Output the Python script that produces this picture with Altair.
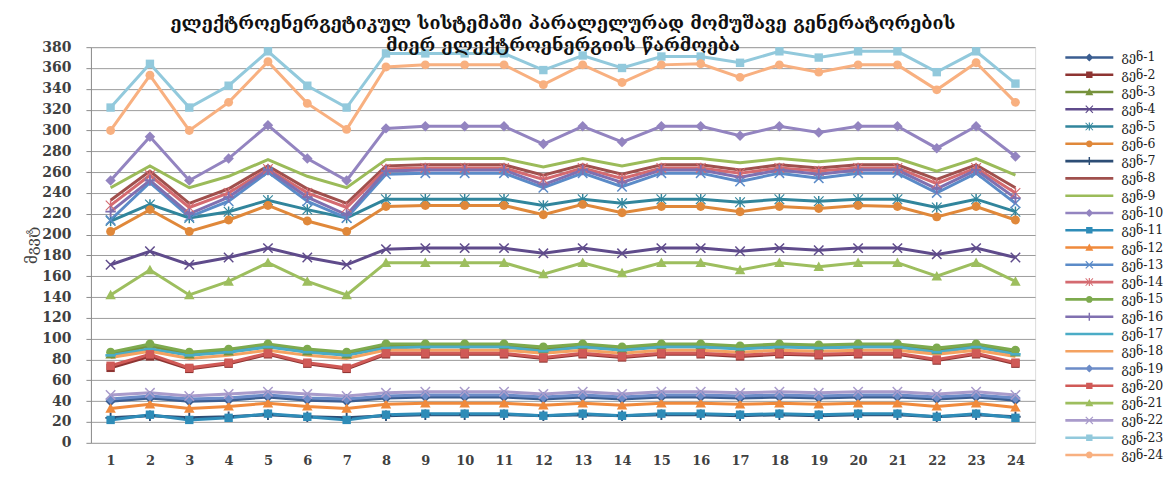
import altair as alt
import pandas as pd

hours = list(range(1, 25))
names = [f"გენ-{i}" for i in range(1, 25)]

colors = [
    "#3B5E91", "#8E3432", "#76923C", "#5F4B8B", "#31859C", "#E0883A",
    "#2C4D75", "#A0504D", "#9BBB59", "#9384C0", "#2E8CB8", "#F08A3C",
    "#5B8BC8", "#D46A70", "#7DAA4E", "#8070B0", "#4BACC6", "#F4A261",
    "#6C8CC8", "#D05A57", "#9DBE5E", "#A99BCB", "#92C9DC", "#F8B080",
]
markers = [
    "diamond", "square", "triangle", "x", "star", "circle",
    "plus", "none", "none", "diamond", "square", "triangle",
    "x", "star", "circle", "plus", "dash", "none",
    "diamond", "square", "triangle", "x", "square", "circle",
]

g1 = [40, 43, 40, 41, 44, 41, 40, 43, 44, 44, 44, 42, 44, 42, 44, 44, 43, 44, 43, 44, 44, 42, 44, 41]
g2 = [72, 83, 71, 76, 85, 76, 71, 85, 85, 85, 85, 81, 85, 82, 85, 85, 83, 85, 84, 85, 85, 79, 85, 76]
g3 = [85, 93, 85, 88, 94, 88, 85, 93, 94, 94, 94, 90, 94, 90, 94, 94, 91, 94, 92, 94, 94, 89, 94, 87]
g4 = [171, 184, 171, 178, 187, 178, 171, 186, 187, 187, 187, 182, 187, 182, 187, 187, 184, 187, 185, 187, 187, 181, 187, 178]
g5 = [213, 229, 216, 222, 233, 224, 216, 234, 234, 234, 234, 228, 234, 230, 234, 234, 231, 234, 232, 234, 234, 226, 234, 222]
g6 = [203, 224, 203, 214, 228, 213, 203, 227, 228, 228, 228, 219, 229, 221, 227, 227, 222, 227, 225, 228, 227, 217, 227, 214]
g7 = [24, 26, 24, 25, 27, 25, 24, 26, 27, 27, 27, 26, 27, 26, 27, 27, 26, 27, 26, 27, 27, 25, 27, 25]
g8 = [233, 261, 230, 244, 266, 244, 230, 266, 267, 267, 267, 257, 267, 258, 267, 267, 262, 267, 264, 267, 267, 253, 267, 245]
g9 = [245, 266, 245, 256, 272, 256, 245, 272, 273, 273, 273, 265, 273, 266, 273, 273, 269, 273, 270, 273, 273, 261, 273, 257]
g10 = [252, 294, 252, 273, 305, 273, 252, 302, 304, 304, 304, 287, 304, 289, 304, 304, 295, 304, 298, 304, 304, 283, 304, 275]
g11 = [22, 27, 22, 24, 28, 25, 22, 27, 28, 28, 28, 26, 28, 26, 28, 28, 27, 28, 27, 28, 28, 25, 28, 24]
g12 = [33, 37, 33, 35, 38, 35, 33, 37, 38, 38, 38, 36, 38, 36, 38, 38, 37, 38, 37, 38, 38, 35, 38, 34]
g13 = [214, 250, 217, 232, 260, 232, 216, 258, 259, 259, 259, 245, 259, 246, 259, 259, 251, 259, 254, 259, 259, 240, 259, 230]
g14 = [228, 257, 226, 240, 263, 240, 226, 263, 264, 264, 264, 253, 264, 254, 264, 264, 259, 264, 261, 264, 264, 249, 264, 240]
g15 = [87, 95, 87, 90, 95, 90, 87, 95, 95, 95, 95, 92, 95, 92, 95, 95, 93, 95, 94, 95, 95, 91, 95, 89]
g16 = [222, 252, 220, 236, 262, 236, 219, 261, 262, 262, 262, 248, 262, 250, 262, 262, 255, 262, 258, 262, 262, 244, 262, 235]
g17 = [84, 90, 84, 87, 92, 87, 84, 91, 92, 92, 92, 88, 92, 89, 92, 92, 90, 92, 91, 92, 92, 87, 92, 85]
g18 = [82, 88, 81, 84, 89, 84, 81, 89, 89, 89, 89, 86, 89, 86, 89, 89, 87, 89, 88, 89, 89, 85, 89, 83]
g19 = [42, 45, 42, 43, 46, 43, 42, 45, 46, 46, 46, 44, 46, 44, 46, 46, 45, 46, 45, 46, 46, 44, 46, 43]
g20 = [74, 85, 72, 77, 86, 77, 72, 86, 86, 86, 86, 82, 86, 83, 86, 86, 84, 86, 85, 86, 86, 80, 86, 77]
g21 = [142, 166, 142, 155, 173, 155, 142, 173, 173, 173, 173, 162, 173, 163, 173, 173, 166, 173, 169, 173, 173, 160, 173, 155]
g22 = [46, 48, 45, 47, 49, 47, 45, 48, 49, 49, 49, 47, 49, 47, 49, 49, 48, 49, 48, 49, 49, 47, 49, 46]
g23 = [322, 364, 322, 343, 376, 343, 322, 374, 374, 374, 374, 358, 372, 360, 371, 371, 365, 376, 370, 376, 376, 356, 376, 345]
g24 = [300, 353, 300, 327, 366, 326, 301, 361, 363, 363, 363, 344, 363, 346, 363, 364, 351, 363, 356, 363, 363, 339, 365, 327]

series_values = [g1, g2, g3, g4, g5, g6, g7, g8, g9, g10, g11, g12,
                 g13, g14, g15, g16, g17, g18, g19, g20, g21, g22, g23, g24]

title_lines = [
    "ელექტროენერგეტიკულ სისტემაში პარალელურად მომუშავე გენერატორების",
    "მიერ ელექტროენერგიის წარმოება",
]
y_title = "მგვტ"

# marker glyphs (unit square paths, all clockwise)
P = {
    "diamond": "M0,-1L1,0L0,1L-1,0Z",
    "square": "M-0.8,-0.8L0.8,-0.8L0.8,0.8L-0.8,0.8Z",
    "triangle": "M0,-1L1,0.8L-1,0.8Z",
    "x": "M-1,-0.8L-0.8,-1L0,-0.2L0.8,-1L1,-0.8L0.2,0L1,0.8L0.8,1L0,0.2L-0.8,1L-1,0.8L-0.2,0Z",
    "star": "M-1,-0.85L-0.85,-1L0,-0.15L0.85,-1L1,-0.85L0.15,0L1,0.85L0.85,1L0,0.15L-0.85,1L-1,0.85L-0.15,0Z"
            "M-0.14,-1L0.14,-1L0.14,1L-0.14,1Z",
    "circle": "M-0.85,0A0.85,0.85,0,1,1,0.85,0A0.85,0.85,0,1,1,-0.85,0Z",
    "plus": "M-0.18,-1L0.18,-1L0.18,-0.18L1,-0.18L1,0.18L0.18,0.18L0.18,1L-0.18,1L-0.18,0.18L-1,0.18L-1,-0.18L-0.18,-0.18Z",
    "dash": "M-1,-0.25L1,-0.25L1,0.25L-1,0.25Z",
    "none": "",
}
LINE = "M-6,-0.32L6,-0.32L6,0.32L-6,0.32Z"
plot_paths = [P[m] if m != "none" else P["square"] for m in markers]
legend_paths = [LINE + P[m] for m in markers]

rows = []
for name, vals, mk in zip(names, series_values, markers):
    for h, v in zip(hours, vals):
        rows.append({"series": name, "hour": h, "mw": v, "marker": mk})
df = pd.DataFrame(rows)

FONT = "DejaVu Serif"

x_enc = alt.X(
    "hour:O",
    scale=alt.Scale(type="point", padding=0.5),
    axis=alt.Axis(title=None, labelAngle=0, ticks=False, grid=False, domain=False,
                  labelFont=FONT, labelFontSize=13, labelFontWeight="bold",
                  labelColor="#404040", labelPadding=12),
)
y_enc = alt.Y(
    "mw:Q",
    scale=alt.Scale(domain=[0, 380], nice=False),
    axis=alt.Axis(values=list(range(0, 381, 20)), title=y_title,
                  titleFont=FONT, titleFontSize=15, titleFontWeight="normal",
                  titleColor="#404040", titlePadding=2,
                  labelFont=FONT, labelFontSize=14, labelFontWeight="bold",
                  labelColor="#404040", labelPadding=15,
                  tickSize=5, tickColor="#8C8C8C", domainColor="#8C8C8C",
                  gridColor="#9C9C9C", gridWidth=1),
)

base = alt.Chart(df)

lines = base.mark_line(strokeWidth=3).encode(
    x=x_enc, y=y_enc,
    color=alt.Color("series:N", scale=alt.Scale(domain=names, range=colors), legend=None),
)

points = base.transform_filter("datum.marker != 'none'").mark_point(
    filled=True, size=110, opacity=1
).encode(
    x=x_enc, y=y_enc,
    color=alt.Color("series:N", scale=alt.Scale(domain=names, range=colors), legend=None),
    shape=alt.Shape("series:N", scale=alt.Scale(domain=names, range=plot_paths), legend=None),
)

leg = dict(title=None, orient="right", offset=24, padding=4, labelFont=FONT, labelFontSize=12.5,
           labelColor="#222222", symbolSize=64, symbolOffset=20, labelOffset=26,
           rowPadding=4.3, symbolStrokeWidth=0, symbolOpacity=1, labelLimit=200)

legend_layer = base.transform_filter("datum.mw < -1").mark_point(
    filled=True, size=64, opacity=1
).encode(
    x=x_enc, y=y_enc,
    color=alt.Color("series:N", scale=alt.Scale(domain=names, range=colors), legend=alt.Legend(**leg)),
    shape=alt.Shape("series:N", scale=alt.Scale(domain=names, range=legend_paths), legend=alt.Legend(**leg)),
)

chart = alt.layer(lines, points, legend_layer).resolve_scale(
    shape="independent", color="independent"
).properties(
    width=945, height=396,
    padding={"left": 16, "top": 7, "right": 0, "bottom": 0},
    title=alt.TitleParams(text=title_lines, font=FONT, fontSize=18, fontWeight="bold",
                          color="#111111", anchor="middle", frame="group",
                          offset=-15, lineHeight=22),
).configure_view(stroke=None).configure(background="white")

chart.save("out.html", embed_options={"renderer": "svg", "actions": False})
